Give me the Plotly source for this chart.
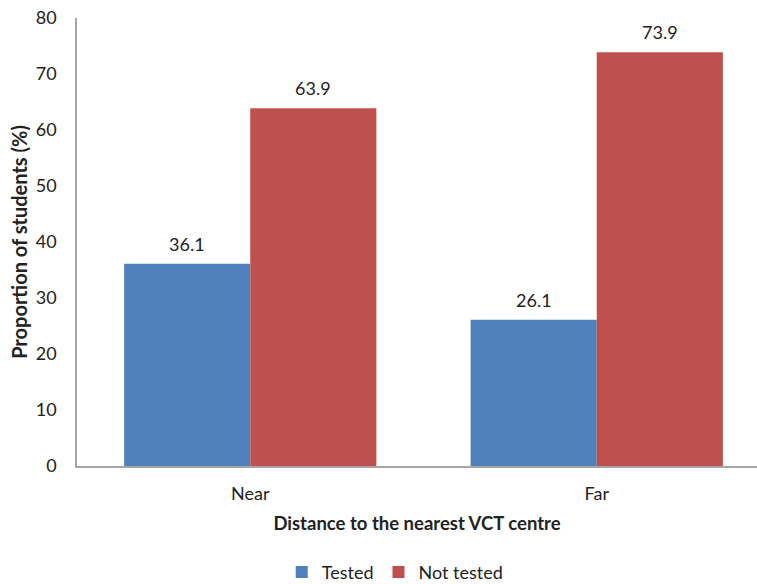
import plotly.graph_objects as go

categories = ["Near", "Far"]
tested = [36.1, 26.1]
not_tested = [63.9, 73.9]
y_ticks = [0, 10, 20, 30, 40, 50, 60, 70, 80]

x_pos = list(range(len(categories)))
FONT = "Lato, Open Sans, sans-serif"
BARGAP = 0.272
half = (1 - BARGAP) / 4  # centre offset of each bar in a group of two

fig = go.Figure()
fig.add_trace(go.Bar(
    x=x_pos, y=tested, name="Tested",
    marker=dict(color="#4F81BD", line=dict(width=0)),
))
fig.add_trace(go.Bar(
    x=x_pos, y=not_tested, name="Not tested",
    marker=dict(color="#C0504D", line=dict(width=0)),
))

for series, off in ((tested, -half), (not_tested, half)):
    for xi, v in zip(x_pos, series):
        fig.add_annotation(x=xi + off, y=v, text=f"{v:.1f}", showarrow=False,
                           yanchor="middle", yshift=20,
                           font=dict(size=18, color="#222222"))

fig.update_layout(
    width=757, height=592,
    margin=dict(l=77, r=0, t=18, b=126),
    paper_bgcolor="white", plot_bgcolor="white",
    font=dict(family=FONT, size=18, color="#222222"),
    barmode="group", bargap=BARGAP, bargroupgap=0,
    showlegend=True,
    legend=dict(orientation="h", x=0.468, xanchor="center", y=-0.237, yanchor="middle",
                font=dict(size=18), itemwidth=30, traceorder="normal"),
    xaxis=dict(
        range=[-0.5, 1.4625], tickvals=x_pos, ticktext=categories,
        showline=True, linecolor="#A6A6A6", linewidth=1.5, ticks="",
        showgrid=False, zeroline=False, ticklabelstandoff=11, automargin=False,
        title=dict(text="<b>Distance to the nearest VCT centre</b>",
                   font=dict(size=18.5), standoff=14),
    ),
    yaxis=dict(
        range=[0, 80], tickvals=y_ticks, ticklabeloverflow="allow",
        showline=True, linecolor="#A6A6A6", linewidth=1.5, ticks="",
        showgrid=False, zeroline=False, ticklabelstandoff=15, automargin=False,
        title=dict(text="<b>Proportion of students (%)</b>",
                   font=dict(size=20), standoff=3),
    ),
)

fig.write_html(
    "out.html",
    config={"displayModeBar": False},
    post_script="document.body.style.margin='0';document.body.style.overflow='hidden';",
)
